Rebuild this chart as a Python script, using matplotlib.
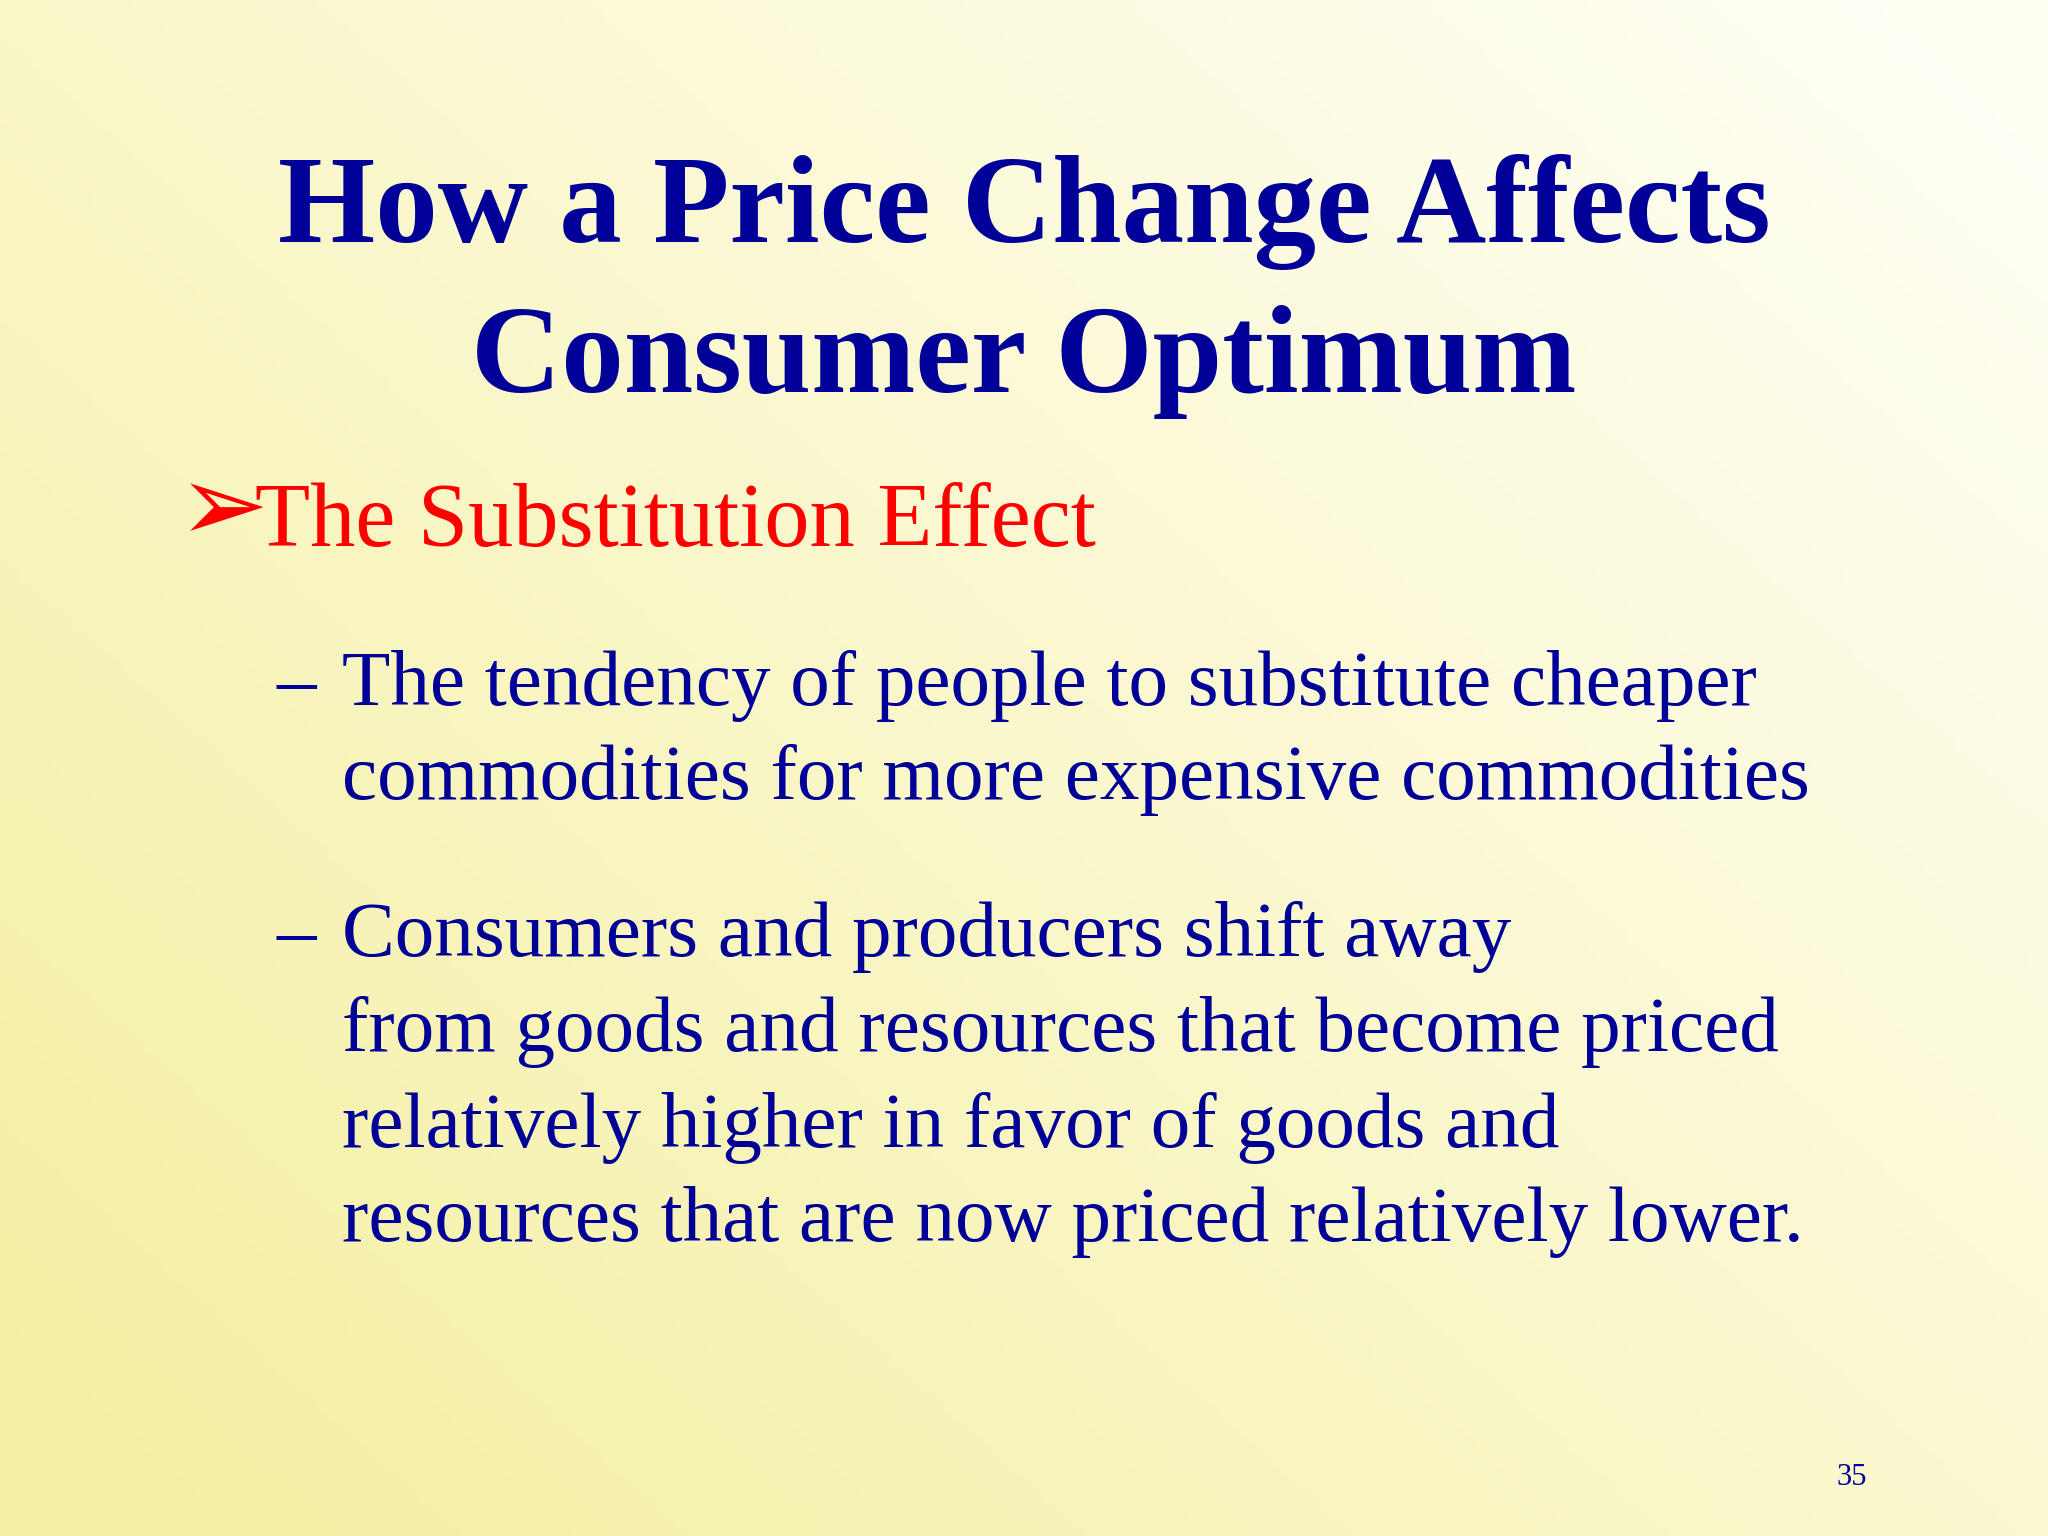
import matplotlib
matplotlib.use("Agg")
import matplotlib.pyplot as plt
import numpy as np

W, H = 1568.0, 1176.0  # reference layout units

title_lines = ["How a Price Change Affects", "Consumer Optimum"]
title_base = [185, 300]
heading = "The Substitution Effect"
sub_lines = [
    ("\u2013", "The tendency of people to substitute cheaper"),
    ("", "commodities for more expensive commodities"),
    ("\u2013", "Consumers and producers shift away"),
    ("", "from goods and resources that become priced"),
    ("", "relatively higher in favor of goods and"),
    ("", "resources that are now priced relatively lower."),
]
sub_base = [540, 612, 732, 805, 878, 950]
page_no = "35"

NAVY = "#000099"
SERIF = ["Liberation Serif", "DejaVu Serif"]

fig = plt.figure(figsize=(20.48, 15.36), dpi=100)
bg = fig.add_axes([0, 0, 1, 1])
yy, xx = np.mgrid[0:1:200j, 0:1:200j]
t = np.clip(0.6 * xx + 0.5 * (1 - yy) - 0.05, 0, 1)  # 1 = top-right, lighter
c0 = np.array([0.96, 0.94, 0.64])
c1 = np.array([1.0, 1.0, 0.96])
img = c0[None, None, :] * (1 - t[..., None]) + c1[None, None, :] * t[..., None]
bg.imshow(img, extent=[0, 1, 0, 1], aspect="auto", origin="upper")
bg.set_axis_off()


def fy(y):
    return 1 - y / H


for line, b in zip(title_lines, title_base):
    fig.text(0.5, fy(b), line, ha="center", va="baseline", fontsize=90,
             fontweight="bold", color=NAVY, family=SERIF)

fig.text(136 / W, fy(414), "\u27a2", ha="left", va="baseline", fontsize=78,
         color="red", family=["DejaVu Sans"])
fig.text(195 / W, fy(418), heading, ha="left", va="baseline", fontsize=65,
         color="red", family=SERIF)

for (dash, line), b in zip(sub_lines, sub_base):
    if dash:
        fig.text(212 / W, fy(b), dash, ha="left", va="baseline", fontsize=57,
                 color=NAVY, family=SERIF)
    fig.text(262 / W, fy(b), line, ha="left", va="baseline", fontsize=57,
             color=NAVY, family=SERIF)

fig.text(1418 / W, fy(1137), page_no, ha="center", va="baseline", fontsize=22,
         color=NAVY, family=SERIF)

fig.savefig("out.png", dpi=100)
